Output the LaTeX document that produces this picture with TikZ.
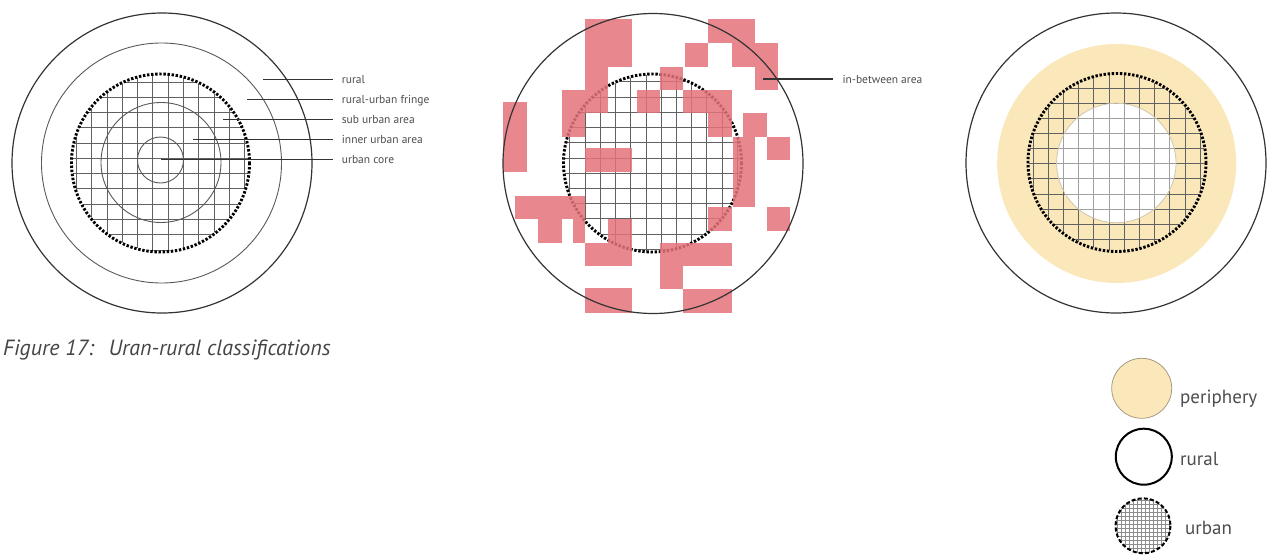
\documentclass[tikz,border=0pt]{standalone}
\usepackage{fontspec}
\setmainfont{PT Sans}
\definecolor{pinkc}{HTML}{E5727A}
\definecolor{yel}{HTML}{FAE8BA}
\definecolor{txt}{HTML}{4D4D4D}
\definecolor{innerrim}{HTML}{CFC6AE}
\definecolor{legrim}{HTML}{A89A80}
\begin{document}
\begin{tikzpicture}[x=1pt,y=-1pt,
  ring/.style={draw=black!80, line width=1.2pt},
  thinring/.style={draw=black!65, line width=0.9pt},
  gridline/.style={draw=black!62, line width=0.8pt},
  fineline/.style={draw=black!45, line width=0.4pt},
  dotring/.style={draw=black, line width=2.9pt, dash pattern=on 2.4pt off 1.7pt},
  pinkcell/.style={fill=pinkc, fill opacity=0.85},
  lbl/.style={font=\fontsize{11.5}{13}\selectfont, text=txt, inner xsep=9pt, inner ysep=0pt, anchor=mid west},
  legtxt/.style={font=\fontsize{19}{22}\selectfont, text=txt, inner sep=0pt, anchor=base west},
  leader/.style={draw=black!80, line width=1.1pt},
]
\useasboundingbox (0,0) rectangle (1272,557);

% ---------------- left diagram ----------------
\begin{scope}
  \clip (160.5,163) circle[radius=88];
  \foreach \k in {-1,...,12} {
    \draw[gridline] ({76.5+15.27*\k},60) -- ({76.5+15.27*\k},270);
    \draw[gridline] (60,{82+15.27*\k}) -- (270,{82+15.27*\k});
  }
\end{scope}
\draw[ring] (162,163) circle[radius=150];
\draw[thinring] (161.5,163) circle[radius=120];
\draw[thinring] (161,162.5) circle[radius=60];
\draw[thinring] (160.5,160) circle[radius=23];
\draw[dotring] (160.5,163) circle[radius=89];

\coordinate (p1) at (263,79.3);
\coordinate (p2) at (247,99.5);
\coordinate (p3) at (223,119.5);
\coordinate (p4) at (193,139.5);
\coordinate (p5) at (161,159.5);
\node[lbl] (l1) at (332.7,80.8) {rural};
\node[lbl] (l2) at (332.7,101) {rural-urban fringe};
\node[lbl] (l3) at (332.7,121) {sub urban area};
\node[lbl] (l4) at (332.7,141) {inner urban area};
\node[lbl] (l5) at (332.7,161) {urban core};
\foreach \i in {1,...,5} \draw[leader] (p\i) -- (p\i -| l\i.west);

% ---------------- middle diagram ----------------
\begin{scope}
  \clip (652.5,163) circle[radius=88];
  \foreach \k in {-1,...,13} {
    \draw[gridline] ({569.8+15.22*\k},60) -- ({569.8+15.22*\k},270);
    \draw[gridline] (550,{81.7+15.24*\k}) -- (760,{81.7+15.24*\k});
  }
\end{scope}
\draw[dotring] (652.5,163) circle[radius=89];
\foreach \a/\b/\c/\d in {
  585/19/631.7/66.7, 585/66.7/608.3/90, 561.7/90/608.3/113.3, 561.7/113.3/585/136.7,
  503.3/102.3/526.7/171.7, 636.7/90/660/113.3, 660/66.7/683.3/90, 685/43.3/708.3/66.7,
  708.3/19/755/43.3, 731.7/43.3/778.3/66.7, 755/66.7/778.3/90, 683.3/90/731.7/113.3,
  708.3/113.3/731.7/136.7, 743.3/113.3/766.7/136.7, 732.5/136.7/755/206.7,
  766.7/136.7/790/160, 766.7/207.3/790/230.7, 708.3/207.3/731.7/230.7,
  660/242.7/731.7/266, 660/266/683.3/289.3, 683.3/289.3/731.7/312.7,
  585/148.3/631.7/171.7, 515/196/585/219.3, 538.3/219.3/561.7/242.7,
  573.3/219.3/585/242.7, 608.3/219.3/631.7/242.7, 585/242.7/631.7/266,
  585/288.3/631.7/312.7}
  \fill[pinkcell] (\a,\b) rectangle (\c,\d);
\draw[ring] (653,163.5) circle[radius=150];
\coordinate (p6) at (763,79);
\node[lbl] (l6) at (833.3,80.5) {in-between area};
\draw[leader] (p6) -- (p6 -| l6.west);

% ---------------- right diagram ----------------
\fill[yel] (1116.7,163.5) circle[radius=119.5];
\fill[white] (1116.3,163) circle[radius=59.7];
\begin{scope}
  \clip (1117,162.5) circle[radius=88];
  \foreach \k in {-1,...,12} {
    \draw[gridline] ({1033+15.2*\k},60) -- ({1033+15.2*\k},270);
    \draw[gridline] (1015,{88.2+15.1*\k}) -- (1220,{88.2+15.1*\k});
  }
\end{scope}
\fill[white, fill opacity=0.4] (1116.3,163) circle[radius=59.7];
\draw[innerrim, line width=0.8pt] (1116.3,163) circle[radius=59.7];
\draw[dotring] (1117,162.5) circle[radius=89];
\draw[ring] (1116,163) circle[radius=150];

% ---------------- caption ----------------
\node[font=\fontsize{22}{26}\selectfont\itshape, text=txt!90!black, inner sep=0pt, anchor=base west] (cap) at (3,355.5) {Figure 17:\hspace{0.3em} Uran-rural classifications};

% ---------------- legend ----------------
\fill[yel] (1141.7,388.3) circle[radius=30];
\draw[legrim, line width=0.8pt] (1141.7,388.3) circle[radius=30];
\node[legtxt] (lg1) at (1180,403) {periphery};

\draw[black, line width=2pt] (1143.8,456.7) circle[radius=28];
\node[legtxt] (lg2) at (1180,465) {rural};

\begin{scope}
  \clip (1143,525.8) circle[radius=27.5];
  \foreach \k in {0,...,15} {
    \draw[fineline] ({1113+4*\k},495) -- ({1113+4*\k},557);
    \draw[fineline] (1110,{496+4*\k}) -- (1176,{496+4*\k});
  }
\end{scope}
\draw[black, line width=2pt, dash pattern=on 4pt off 2.2pt] (1143,525.8) circle[radius=27.5];
\node[legtxt] (lg3) at (1185,534) {urban};
\end{tikzpicture}
\end{document}
